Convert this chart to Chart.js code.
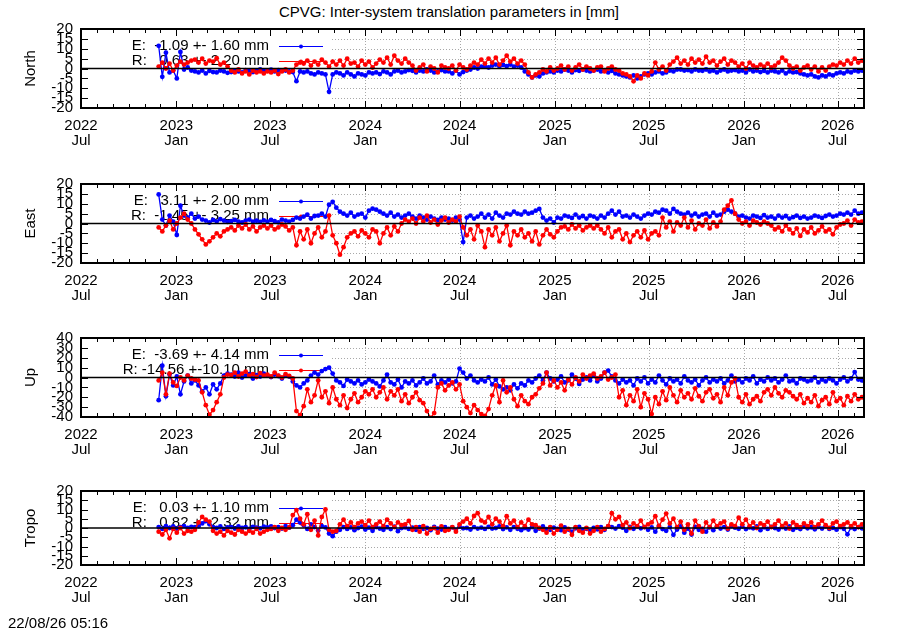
<!DOCTYPE html>
<html>
<head>
<meta charset="utf-8">
<script src="https://cdn.jsdelivr.net/npm/chart.js@4.4.1/dist/chart.umd.min.js"></script>
<style>
  body { margin: 0; background: #fff; width: 900px; height: 630px; position: relative; overflow: hidden;
         font-family: "Liberation Sans", Arial, sans-serif; }
  canvas { position: absolute; left: 0; }
  .txt { position: absolute; font-size: 15px; color: #000; white-space: pre; line-height: 17px; }
</style>
</head>
<body>
<div class="txt" style="left:0;width:898px;text-align:center;top:3px">CPVG: Inter-system translation parameters in [mm]</div>
<canvas id="c0" width="900" height="140" style="top:20px"></canvas>
<canvas id="c1" width="900" height="140" style="top:175px"></canvas>
<canvas id="c2" width="900" height="140" style="top:329px"></canvas>
<canvas id="c3" width="900" height="135" style="top:482px"></canvas>
<div class="txt" style="left:8px;top:614px">22/08/26 05:16</div>
<script>
/* Inter-system translation parameters, weekly samples.
   x = days since 2022-07-01; first sample 2022-11-28, one per week. */
const startDay = 150;
const stepDays = 7;
const xMax = 1512;

const majorDays = [0, 184, 365, 549, 731, 915, 1096, 1280, 1461];
const majorLabels = [["2022", "Jul"], ["2023", "Jan"], ["2023", "Jul"], ["2024", "Jan"], ["2024", "Jul"],
                     ["2025", "Jan"], ["2025", "Jul"], ["2026", "Jan"], ["2026", "Jul"]];

const northE = [
  11.5, -4.2, 8, -2, -1, -5, 8.4, -0.5, 0.5, -1,
  -1.5, -2, -1, -2.5, -1.2, -1.8, -2, -1, -1.5, -2.2,
  -1.8, -1, -1.5, -2, -0.8, -1.3, -1.8, -1, -0.5, -1.2,
  -1, -0.6, -1.5, -0.8, -1.2, -1, -1.5, -1.8, -6.4, -1.5,
  -2, -1.5, -2.5, -3, -2, -2.5, -3, -11.8, -3, -2,
  -2.5, -3.5, -2, -3, -4, -2.5, -3, -3.5, -2, -2.5,
  -2, -2.8, -1.5, -2, -3, -1.5, -1, -2, -1.5, -0.8,
  -1.2, -2, -1, -1.5, -0.5, -1, -2, -1.5, -0.8, -1.5,
  -1.5, -2.5, -1, -3, -1.8, -1, -0.5, 0.5, 0, 1,
  1, 0.5, 1.5, 2, 1, 1.8, 1.2, 2, 1, 1.5,
  0.5, -1.5, -3, -4.5, -3.5, -4, -2.5, -2, -1.5, -2,
  -1, -1.5, -0.5, -1, -2, -0.8, -1.2, -0.5, -1, -1.5,
  -1, -0.5, -1.5, -1, -2, -1.2, -2.5, -3, -3.5, -4,
  -4.5, -3.5, -5, -4, -3, -2.5, -3, -2, -1.5, -2.5,
  -2, -1, -1.5, -0.5, -0.5, -1, -0.8, -1.5, -0.5, -1,
  -1.2, -0.5, -1.5, -1, -2, -1, -0.5, -1.5, -1, -0.8,
  -1.5, -1, -2, -0.5, -1.5, -1, -1.8, -1.2, -2, -1,
  -1.5, -2, -1, -2.5, -1.5, -2, -1.8, -2.5, -3, -3.5,
  -3, -4, -4.5, -3.5, -4, -3, -3.5, -2.5, -2, -2.5,
  -1.5, -2, -1, -1.5, -1
];
const northR = [
  1, 3, 0, 2.5, -1, 1.5, 3.5, 2, 3, 4,
  4.5, 3, 5, 2.5, 4, 3.5, 5.2, 2, 3, 1,
  -1, -2, -0.5, -2.5, -1.5, -3, -1, -2, -1.5, -2.5,
  -1.5, -2, -1, -2.8, -1.5, -0.5, -2, -1, 2, 3,
  2.5, 4, 1.5, 3.5, 2, 4.5, 3, 1, 3.5, 2,
  4, 1.5, 5, 2.5, 3, 1, 4, 2, 3.5, 0.5,
  2.5, 4.5, 3, 5.5, 2, 6.5, 4, 2.5, 5, 3,
  1.5, -1, 0.5, 2, -1.5, 1, 0, -2, 1.5, 0.5,
  0, 1.5, -1, 2, 0.5, -0.5, 1.5, 3, 2, 4.5,
  2.5, 5, 3, 5.5, 2, 4, 6.5, 3.5, 5, 2.5,
  4, 2, -2, -4.5, -3, -2, -0.5, -1.5, 0.5, -1,
  0, 1.5, -0.5, 1, -1, 0.5, 2, -0.5, 1, 0,
  -1, 0.5, 1, -1.5, 0, 1, -0.5, -1, -2.5, -3,
  -4, -6.5, -3.5, -5, -2.5, -3.5, -1.5, 3, -0.5, 1,
  -1, 2, 3.5, 5.5, 2.5, 4, 2, 5, 3, 4.5,
  2.5, 6, 3, 4, 1.5, 3.5, 5, 2, 4, 3,
  1, 2.5, 0, 3, 1.5, 0.5, 2, 1, 2.5, 0.5,
  1.5, 3, 5.5, 4, 1.5, 0, 1, -1, 0.5, 1.5,
  -0.5, 1, -1.5, 0.5, -1, 1, 2, 1.5, 3, 2,
  4, 2.5, 5, 3, 4
];
const eastE = [
  14.7, 2, -1, 4, 1, -5.8, 9, 4, 3, 5,
  2.5, 3.5, 2, 1.5, 0.5, 1.8, 1, 2.2, 1.5, 0.8,
  1.2, 1.8, 1, 0.5, 1.5, 2, 1, 1.4, 0.8, 1.6,
  1, 1.8, 1.2, 0.6, 2, 1.5, 1, 1.8, 3, 2.5,
  3.5, 4.5, 2.5, 3.8, 4, 5, 3.5, 9.5, 11, 8,
  6, 5, 4, 5.5, 3.5, 4.5, 5, 3, 6.5, 7.5,
  7, 6, 5, 4, 5.5, 3.5, 4.5, 3, 4, 5,
  3.5, 2.5, 4, 3, 2, 3.5, 2.5, 1.8, 3, 2,
  2.5, 1.5, 3, 2, -9.4, 3, 4, 2.5, 3.5, 5,
  3, 4.5, 2.5, 5.5, 4, 3, 5, 4.5, 6, 5,
  4.5, 6, 5, 5.5, 6.5, 7.4, 3, 1.5, 2.5, 0.5,
  3, 2.5, 4, 3.5, 2.8, 4.5, 3, 3.8, 2.5, 4,
  3.5, 2.5, 4, 3, 5, 6.5, 4.5, 6, 3.5, 4,
  3, 4.5, 3.5, 2.5, 4, 5, 4.5, 6, 5.5, 7,
  6.5, 5, 7.4, 6, 5, 4.5, 5.5, 4, 5, 3.5,
  4.5, 5, 3.5, 5.5, 4, 4.5, 6, 7, 6, 5,
  3.5, 4, 3, 2.5, 4, 3.5, 2.8, 4.2, 3, 3.5,
  2.5, 4, 3, 3.8, 2.5, 3.2, 4, 2.8, 3.5, 2.5,
  3, 4, 3.5, 2.8, 3.8, 4.5, 3.5, 4, 5, 4.5,
  5.5, 4.5, 6.5, 5, 5.5
];
const eastR = [
  -2, -4, -1, 1.4, -3, 0, 3, 5, 2, 0,
  -3, -5.5, -8, -10.6, -9, -7, -5, -6.5, -4, -3,
  -2, -3.5, -1, -2.5, -0.5, -3, -1.5, -4, -2, -1,
  -2.5, -1, -3, -2, -0.5, -1.5, -3.5, -2, -11, -4,
  -8, -3, -10, -5, -2, -7, -4, 4, -6, -10,
  -15.8, -12, -7, -5, -4, -6.5, -3.5, -5, -7, -3,
  -4, -10, -5, -2, -6, -1.5, -4, 0, 2, 1,
  2.5, 0, 3, 1, 4, 0.5, 2, -0.5, 1.5, 3,
  0.5, 2, 1, 3.5, -2, -6, -3, -8, -1, -4,
  -12, -3, -6, -2, -9, -5, -1, -11, -4, -6,
  -3, -7, -5, -9, -4, -10.6, -6, -3, -5.5, -7,
  -4, -2, -1.5, -3, -0.5, -2.5, -1, -3.5, -2, -1,
  -2.5, -1, -3, -5, -2, -7, -4, -3, -8, -5,
  -9.4, -6, -4, -7, -3.5, -8, -5, -4, -6, 3,
  -2, 1, -4, 0.5, -1, 3, -2, 1.5, -3, 0,
  -1, 2, -2.5, 0.5, -1.5, 1, 7, 9, 11.7, 5,
  2, 0, 1, -1, 1.5, 0.5, -0.5, 1, 0, -1,
  -3, -2, -4, -1, -3, -5, -2.5, -6.3, -3, -4.5,
  -2, -5, -3.5, -1.5, -4, -3, -5.5, -2, -0.5, 0,
  1.5, -1, 2, 0.5, 1
];
const upE = [
  -23, 12, -19, 3, -8, 1, -17, -4, 2, -6,
  -3, -8, -14, -10, -17, -7, -12, -6, 2, 4,
  3, 1, 5, 0, 2, 3.5, -1, 2.5, 1, 4,
  2, 0.5, 3, 1.5, -1, 2, 1, -4, -8, -10,
  -6, -3, 2, 5, 3, 6.5, 8.5, 10, 4, -3,
  -5, -8.5, -2, -4, -6, -3, -7, -5, -2, -4,
  -6, -9, -3, 3, -5, -7, -2, -10, -4, -6,
  -3, -8, -5, -1, -6, -4, 2, -7, -3, -5,
  -2, -6, -4, 9, 5, -1, 2, -3, -5, -2,
  -4, 0, -7, -2, -9, -12, -10, -13, -7, -11,
  -6, -8, -3, -5, -1, 2, -3, 5, -1, -4,
  -2, 1, -5, -3, 3, -1, -6.5, -2, 0, -3,
  2, -4, -1, 5, 7, 1, -3, -6, -2, -5,
  -3, -8, -1, -4, 0, -6, -2, -5, 2, -3,
  -7, -1, -4, -2, -6, 1, -3, -5, -2, -8,
  -3, 0, -5, -2, -4, -1, -6, -3, 2, -4,
  -2, -5, -1, -3, 1, -6, -2, -4, 0, -3,
  -1, -5, -2, 2, -4, -3, -6, -1, -2, -4,
  -3, 0, -5, -2, -4, -1, -3, -6, -2, 0,
  -4, -1, 5.5, -2, -3
];
const upR = [
  -3, 5, -17, 4, -5, -8.5, 0, -3, 2, -1,
  -2, -3, -15, -28, -37.6, -33, -25, -17, 0, 3,
  2.5, 5, 1, 4, 6, 2, 3.5, 0.5, 4.5, 2,
  3, 1, 5, 2, 0, 3.5, 1.5, -1, -34, -38,
  -29, -12, -25, -18, -3, -20, -14, -26, -10, -22,
  -28, -18, -31, -22, -16, -25, -20, -14, -17, -12,
  -20, -15, -10, -22, -14, -18, -12, -24, -17, -26,
  -20, -15, -23, -26, -34, -41, -36, -10, -6, -13,
  -8, -5, -12, -7, -24, -30, -36, -28, -33, -37,
  -39, -32, -18, -8, -25, -3, -15, -10, -22, -29,
  -18, -24, -27, -20, -17, -11, -6, 5, -8, -3,
  -10, -5, -13, -2, -7, 0, -4, 3, -1, 2,
  4, -1, 1, 5, -2, 0, 3, -20, -13, -28,
  -18, -24, -12, -30, -16, -22, -37, -20, -27, -14,
  -23, -10, -18, -25, -13, -20, -16, -22, -11, -19,
  -24, -15, -12, -21, -17, -25, -10, -18, -5, -1,
  -20, -25, -17, -27, -22, -19, -24, -15, -12, -18,
  -10, -16, -20, -13, -15, -19, -22, -17, -26, -21,
  -25, -18, -29, -23, -20, -27, -15, -24, -21, -28,
  -19, -24, -17, -22, -20
];
const tropoE = [
  0.5, -0.5, 1, 0, 0.8, -0.3, 0.5, 1, 0, 0.6,
  0.5, 1, 2.5, 3.7, 2, 0.5, 0, 0.8, -0.5, 0.3,
  0.5, -0.3, 0.8, 0, 0.4, -0.5, 0.6, 0.2, -0.2, 0.7,
  0.3, 0.8, 0, 0.5, -0.3, 1, 0.2, 1.5, 4.5, 3,
  1.5, -0.5, 2, 0.5, -1.4, 1, 0.3, -3, -4.4, -2,
  -1, 0.5, -0.5, 0.3, -1.2, 0, 0.7, -0.8, 0.2, -1.5,
  0.5, -0.3, -1, 0.4, -0.6, 0.7, -1.7, 0, 0.3, -0.5,
  0.2, -1, 0.5, -0.4, 0, -1.2, 0.6, -0.3, -0.8, 0.4,
  -0.5, 0.3, -1, 0.7, -0.2, 0, -0.8, 0.5, -0.3, 0.2,
  -0.5, 0.6, -0.3, 0, 0.8, -0.6, 0.3, -1, 0.5, -0.4,
  -1.2, 0, -0.8, 0.5, -1.5, -0.3, 0.8, -0.6, -1, 0.2,
  -0.5, -1.2, 0.3, -0.8, -2, -0.2, 0.6, -0.9, -0.4, -1.5,
  0, -0.7, 0.4, -1, 0.8, 0.5, -0.3, 1, 0.2, -1.5,
  0.6, -0.4, 0.9, -0.2, 0.5, -1, 0.3, -2, 1.2, -0.6,
  -1.5, 0.5, -3.7, -0.8, 0.8, -2.5, -0.3, -3.5, 0.6, -1,
  -0.5, -2, 0.4, -1.2, 0.7, -0.3, 0.5, -0.8, 1, 0.2,
  -0.4, 0.8, -0.6, 0.3, -0.2, 0.9, -1.2, 0.4, -0.5, 0.6,
  0, -0.8, 0.5, -0.3, 0.8, -1, 0.2, -0.6, 0.7, -0.2,
  0.4, -0.7, 0.6, -0.3, 0.9, -0.5, 0.1, -0.9, 0.5, -0.4,
  -3.4, 0.3, -0.6, 0.5, -0.2
];
const tropoR = [
  -2, -3.5, -1, -5.6, -0.5, -2.5, 0, -3, -1.5, -2,
  -1, 3, 6, 4.5, 3.5, -1.5, -3, -2, -4, -1.5,
  -2.5, -3.5, -1, -2, -3, -1.5, -2.5, -0.5, -3, -2,
  -1, -0.5, 0.5, -1.5, 0, -1, 0.3, 7, 9.7, 5,
  2, 7.5, -1, 4, -4, 6, 10, -1, -2, -1.5,
  2, 4.5, 1, 3, 0.5, 2.5, 3.5, 1.5, 4, 0.5,
  2, 3.5, 1, 4.5, 2.5, 0.5, 3, 1.5, 2, 3.8,
  -1, 0.5, -2, 1, -3, -0.5, 0, -2.5, 0.8, -1.5,
  -1, 0.5, -2, 2, 3.5, 5, 2.5, 6.5, 8, 4,
  3, 6, 2, 5, 3.5, 1, 6.4, 2.5, 4, 0.5,
  3, 1, 4.5, 2, 1.5, 0, -1, -2.5, 0.5, -3,
  -1, 1.3, -2, -0.5, -3.7, 0.5, -1.5, -2.5, 0, -3,
  -1.5, 0.5, -2, -0.5, 1, 8, 4.7, 6, 1.5, 3,
  0, 2.5, 1, 4, 0.5, 2, 3, 6.4, 1, 4.5,
  7.8, 2.5, 5, 0.5, 3.5, -1, 2, -3, 4, 1,
  -2, 3, 0.5, 4, 1, 2.5, 3.5, -0.3, 2, 1,
  5.6, 2, 4.5, 1, 3, 0, 2.5, 1.5, 3.5, 0.5,
  2, 4, 1, 2.5, -0.3, 3, 1.5, 0.5, 2.5, 1,
  3, 0.5, 2, 4, 1.5, 0, 2.5, 3.5, 1, 2,
  3, 1, 2.5, 0.5, 2
];

const panels = [
  { id: "c0", name: "North", min: -20, max: 20, step: 5, e: northE, r: northR,
    legend: ["E:  -1.09 +- 1.60 mm", "R:   0.63 +- 2.20 mm"] },
  { id: "c1", name: "East", min: -20, max: 20, step: 5, e: eastE, r: eastR,
    legend: ["E:   3.11 +- 2.00 mm", "R:  -1.45 +- 3.25 mm"] },
  { id: "c2", name: "Up", min: -40, max: 40, step: 10, e: upE, r: upR,
    legend: ["E:  -3.69 +- 4.14 mm", "R: -14.56 +-10.10 mm"] },
  { id: "c3", name: "Tropo", min: -20, max: 20, step: 5, e: tropoE, r: tropoR,
    legend: ["E:   0.03 +- 1.10 mm", "R:   0.82 +- 2.32 mm"] },
];

const BLUE = "#0000ff", RED = "#ff0000", GRID = "#a8a8a8";
const FONT = '"Liberation Sans", Arial, sans-serif';
Chart.defaults.font.family = FONT;
Chart.defaults.color = "#000";

// first day of every month on the axis, for the minor ticks
const monthDays = [];
for (let m = 0; m < 50; m++) {
  const d = (Date.UTC(2022, 6 + m, 1) - Date.UTC(2022, 6, 1)) / 864e5;
  if (d <= xMax) monthDays.push(d);
}

const toPoints = (arr) => arr.map((v, i) => ({ x: startDay + i * stepDays, y: v }));

// gnuplot-like frame: dotted grid, opaque key area, inward ticks, zero line
const gnuFrame = {
  id: "gnuFrame",
  beforeDatasetsDraw(chart, args, o) {
    const { ctx, chartArea: a, scales: { x, y } } = chart;
    const keyR = 332, keyB = a.top + 70;
    ctx.save();
    ctx.strokeStyle = GRID; ctx.lineWidth = 1; ctx.setLineDash([1, 2]);
    for (let v = o.min + o.step; v < o.max; v += o.step) {
      if (v === 0) continue;
      const py = Math.round(y.getPixelForValue(v)) + 0.5;
      const x0 = py < keyB ? keyR : a.left;
      ctx.beginPath(); ctx.moveTo(x0, py); ctx.lineTo(a.right, py); ctx.stroke();
    }
    majorDays.forEach((d) => {
      const px = Math.round(x.getPixelForValue(d)) + 0.5;
      if (px <= keyR || px >= a.right - 1) return;
      ctx.beginPath(); ctx.moveTo(px, a.top); ctx.lineTo(px, a.bottom); ctx.stroke();
    });
    ctx.setLineDash([]);
    // key
    ctx.font = "15px " + FONT; ctx.textAlign = "right"; ctx.textBaseline = "middle"; ctx.fillStyle = "#000";
    o.legend.forEach((s, k) => {
      const ly = a.top + 17 + 15 * k;
      ctx.fillText(s, 269, ly);
      const c = k === 0 ? BLUE : RED;
      ctx.strokeStyle = c; ctx.fillStyle = c; ctx.lineWidth = 1;
      ctx.beginPath(); ctx.moveTo(279, ly + 0.5); ctx.lineTo(323, ly + 0.5); ctx.stroke();
      ctx.beginPath(); ctx.arc(301, ly + 0.5, 2, 0, Math.PI * 2); ctx.fill();
      ctx.fillStyle = "#000";
    });
    ctx.restore();
  },
  afterDatasetsDraw(chart, args, o) {
    const { ctx, chartArea: a, scales: { x, y } } = chart;
    ctx.save();
    ctx.strokeStyle = "#000";
    // zero line
    const y0 = y.getPixelForValue(0);
    ctx.lineWidth = 1.5;
    ctx.beginPath(); ctx.moveTo(a.left, y0); ctx.lineTo(a.right, y0); ctx.stroke();
    // ticks
    ctx.lineWidth = 1;
    monthDays.forEach((d) => {
      const px = Math.round(x.getPixelForValue(d)) + 0.5;
      const len = majorDays.includes(d) ? 7 : 4;
      ctx.beginPath();
      ctx.moveTo(px, a.bottom); ctx.lineTo(px, a.bottom - len);
      ctx.moveTo(px, a.top); ctx.lineTo(px, a.top + len);
      ctx.stroke();
    });
    for (let v = o.min; v <= o.max; v += o.step) {
      const py = Math.round(y.getPixelForValue(v)) + 0.5;
      ctx.beginPath();
      ctx.moveTo(a.left, py); ctx.lineTo(a.left + 7, py);
      ctx.moveTo(a.right, py); ctx.lineTo(a.right - 7, py);
      ctx.stroke();
    }
    // frame
    ctx.lineWidth = 2;
    ctx.strokeRect(a.left, a.top, a.right - a.left, a.bottom - a.top);
    ctx.restore();
  },
  afterDraw(chart, args, o) {
    const { ctx, chartArea: a } = chart;
    ctx.save();
    ctx.font = "15px " + FONT; ctx.fillStyle = "#000";
    ctx.textAlign = "center"; ctx.textBaseline = "middle";
    ctx.translate(31, (a.top + a.bottom) / 2);
    ctx.rotate(-Math.PI / 2);
    ctx.fillText(o.name, 0, 0);
    ctx.restore();
  }
};

panels.forEach((p) => {
  new Chart(document.getElementById(p.id), {
    type: "line",
    data: {
      datasets: [
        { label: "E", data: toPoints(p.e), borderColor: BLUE, backgroundColor: BLUE, order: 1 },
        { label: "R", data: toPoints(p.r), borderColor: RED, backgroundColor: RED, order: 0 },
      ]
    },
    options: {
      responsive: false, animation: false, events: [], devicePixelRatio: 1,
      layout: { padding: { top: 9, left: 0, right: 36, bottom: 0 } },
      elements: {
        line: { borderWidth: 1.3, tension: 0 },
        point: { radius: 2.4, borderWidth: 0 }
      },
      plugins: {
        legend: { display: false }, tooltip: { enabled: false },
        gnuFrame: { name: p.name, min: p.min, max: p.max, step: p.step, legend: p.legend }
      },
      scales: {
        x: {
          type: "linear", min: 0, max: xMax,
          grid: { display: false, drawTicks: false }, border: { display: false },
          afterBuildTicks: (s) => { s.ticks = majorDays.map((v) => ({ value: v })); },
          afterFit: (s) => { s.height = 52; },
          ticks: { autoSkip: false, maxRotation: 0, padding: 10, color: "#000",
                   font: { size: 15, lineHeight: 1 },
                   callback: (v, i) => majorLabels[i] }
        },
        y: {
          min: p.min, max: p.max,
          grid: { display: false, drawTicks: false }, border: { display: false },
          afterFit: (s) => { s.width = 81; s.paddingTop = 0; s.paddingBottom = 0; },
          ticks: { stepSize: p.step, autoSkip: false, padding: 8, color: "#000", font: { size: 15 } }
        }
      }
    },
    plugins: [gnuFrame]
  });
});
</script>
</body>
</html>
